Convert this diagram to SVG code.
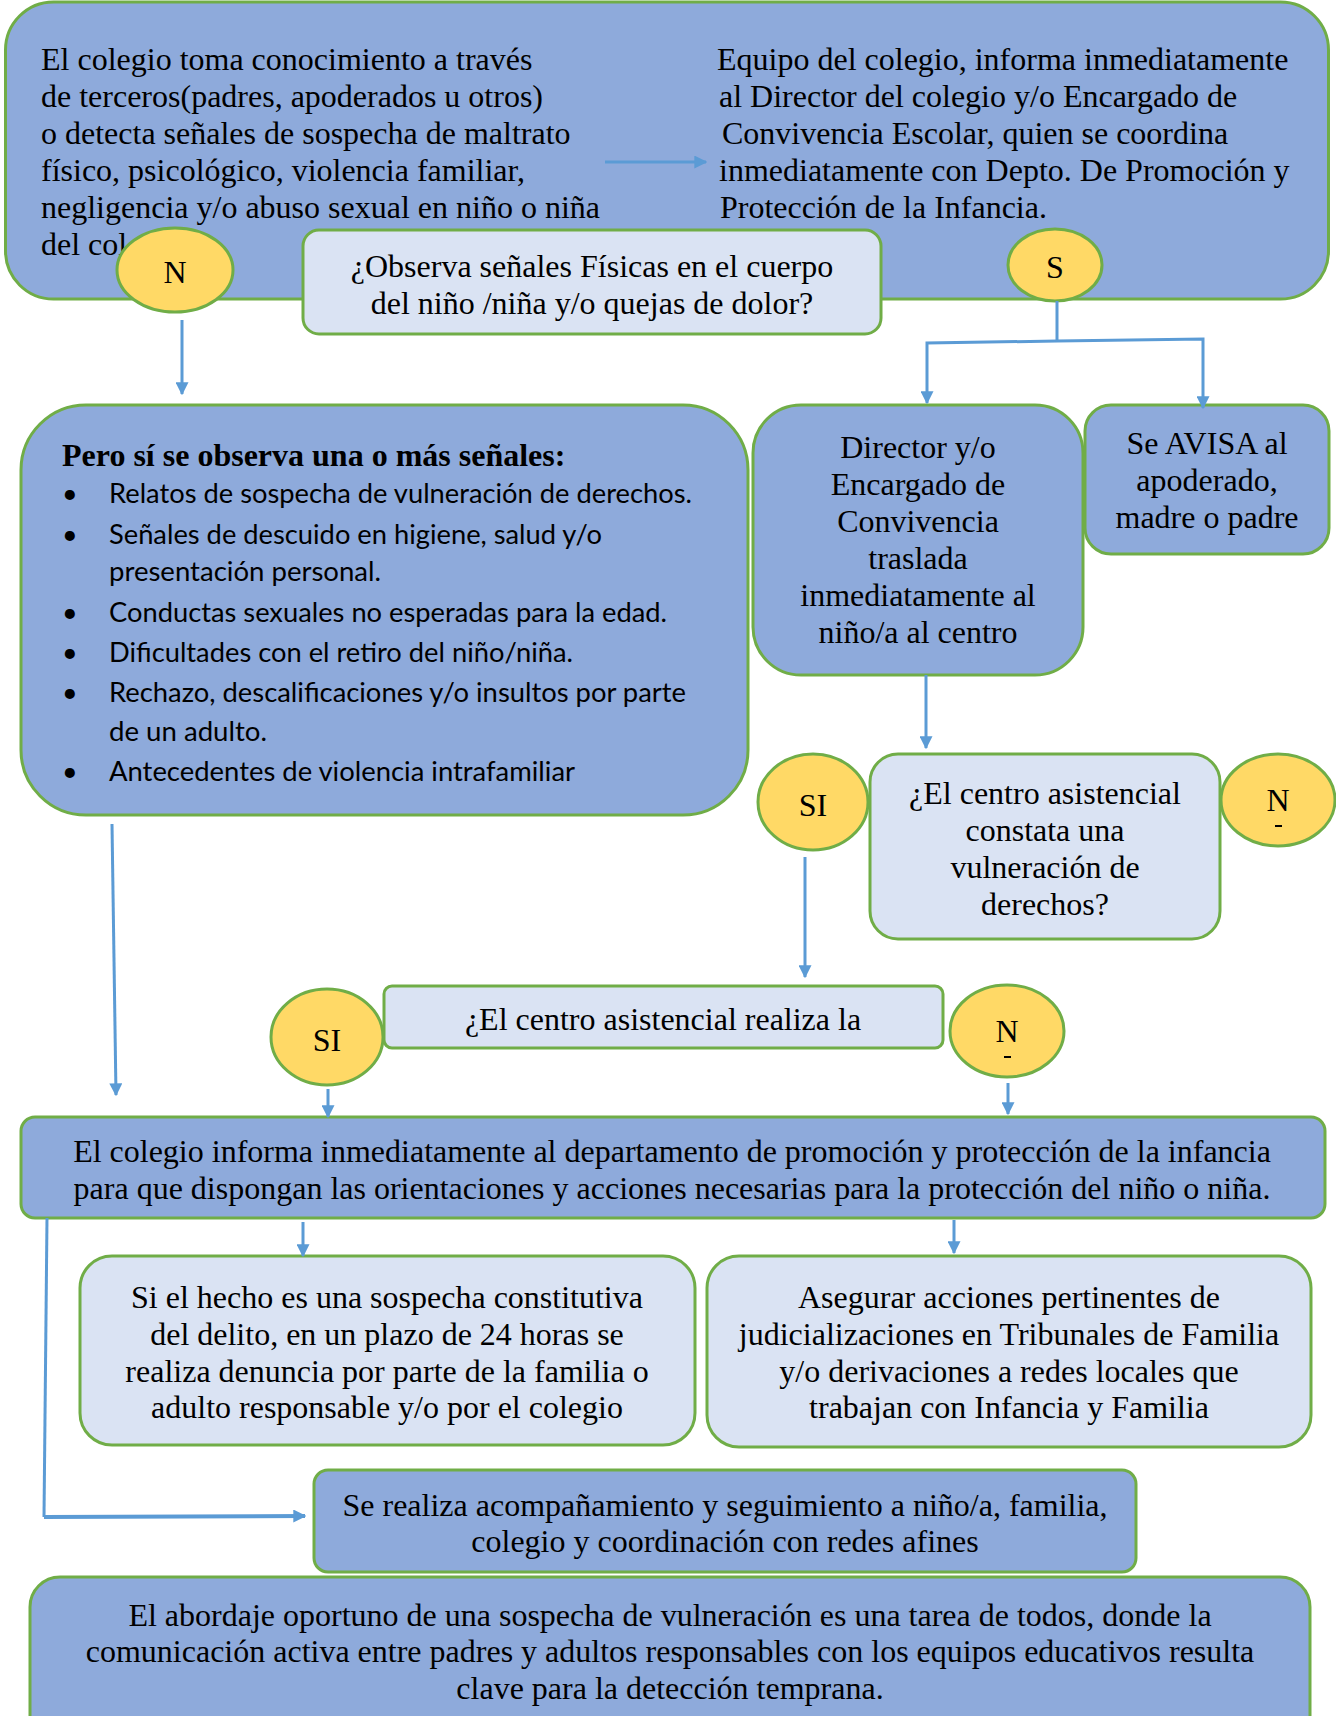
<svg xmlns="http://www.w3.org/2000/svg" width="1336" height="1716" viewBox="0 0 1336 1716">
<defs>
<style>
.blue{fill:#8eaadb;stroke:#70ad47;stroke-width:3}
.light{fill:#dae3f3;stroke:#70ad47;stroke-width:3}
.yel{fill:#ffd966;stroke:#70ad47;stroke-width:3}
.t{font-family:"Liberation Serif","Times New Roman",serif;font-size:32px;fill:#000}
.c{text-anchor:middle}
.b{font-weight:bold}
.s{font-family:Lato,"Liberation Sans",sans-serif;font-size:27px;fill:#000}
.con{fill:none;stroke:#5b9bd5;stroke-width:3}
.arr{marker-end:url(#ah)}
</style>
<marker id="ah" viewBox="0 0 10 10" refX="9" refY="5" markerWidth="13" markerHeight="13" markerUnits="userSpaceOnUse" orient="auto">
<path d="M0,0 L10,5 L0,10 z" fill="#5b9bd5"/>
</marker>
</defs>
<rect width="1336" height="1716" fill="#ffffff"/>

<g id="top-box">
<rect class="blue" x="5.5" y="2" width="1323" height="297" rx="48"/>
<text class="t" x="41" y="70">El colegio toma conocimiento a través</text>
<text class="t" x="41" y="107">de terceros(padres, apoderados u otros)</text>
<text class="t" x="41" y="144">o detecta señales de sospecha de maltrato</text>
<text class="t" x="41" y="181">físico, psicológico, violencia familiar,</text>
<text class="t" x="41" y="218">negligencia y/o abuso sexual en niño o niña</text>
<text class="t" x="41" y="255">del col</text>
<text class="t" x="717" y="70">Equipo del colegio, informa inmediatamente</text>
<text class="t" x="719" y="107">al Director del colegio y/o Encargado de</text>
<text class="t" x="722" y="144">Convivencia Escolar, quien se coordina</text>
<text class="t" x="719" y="181">inmediatamente con Depto. De Promoción y</text>
<text class="t" x="720" y="218">Protección de la Infancia.</text>
</g>

<g id="n-top">
<ellipse class="yel" cx="175" cy="270" rx="58" ry="42"/>
<text class="t c" x="175" y="283">N</text>
</g>

<g id="q-fisicas">
<rect class="light" x="303" y="230" width="578" height="104" rx="16"/>
<text class="t c" x="592" y="277">¿Observa señales Físicas en el cuerpo</text>
<text class="t c" x="592" y="314">del niño /niña y/o quejas de dolor?</text>
</g>

<g id="s-top">
<ellipse class="yel" cx="1055" cy="265" rx="47" ry="36"/>
<text class="t c" x="1055" y="278">S</text>
</g>

<g id="senales">
<rect class="blue" x="21" y="405" width="727" height="410" rx="65"/>
<text class="t b" x="62" y="466">Pero sí se observa una o más señales:</text>
<text class="s" x="62" y="503">•</text>
<text class="s" x="109" y="503" textLength="583" lengthAdjust="spacingAndGlyphs">Relatos de sospecha de vulneración de derechos.</text>
<text class="s" x="62" y="544">•</text>
<text class="s" x="109" y="544" textLength="493" lengthAdjust="spacingAndGlyphs">Señales de descuido en higiene, salud y/o</text>
<text class="s" x="109" y="581" textLength="272" lengthAdjust="spacingAndGlyphs">presentación personal.</text>
<text class="s" x="62" y="622">•</text>
<text class="s" x="109" y="622" textLength="558" lengthAdjust="spacingAndGlyphs">Conductas sexuales no esperadas para la edad.</text>
<text class="s" x="62" y="662">•</text>
<text class="s" x="109" y="662" textLength="464" lengthAdjust="spacingAndGlyphs">Dificultades con el retiro del niño/niña.</text>
<text class="s" x="62" y="702">•</text>
<text class="s" x="109" y="702" textLength="577" lengthAdjust="spacingAndGlyphs">Rechazo, descalificaciones y/o insultos por parte</text>
<text class="s" x="109" y="741" textLength="158" lengthAdjust="spacingAndGlyphs">de un adulto.</text>
<text class="s" x="62" y="781">•</text>
<text class="s" x="109" y="781" textLength="466" lengthAdjust="spacingAndGlyphs">Antecedentes de violencia intrafamiliar</text>
</g>

<g id="director">
<rect class="blue" x="753" y="405" width="330" height="270" rx="48"/>
<text class="t c" x="918" y="458">Director y/o</text>
<text class="t c" x="918" y="495">Encargado de</text>
<text class="t c" x="918" y="532">Convivencia</text>
<text class="t c" x="918" y="569">traslada</text>
<text class="t c" x="918" y="606">inmediatamente al</text>
<text class="t c" x="918" y="643">niño/a al centro</text>
</g>

<g id="avisa">
<rect class="blue" x="1085" y="405" width="244" height="149" rx="26"/>
<text class="t c" x="1207" y="454">Se AVISA al</text>
<text class="t c" x="1207" y="491">apoderado,</text>
<text class="t c" x="1207" y="528">madre o padre</text>
</g>

<g id="si-mid">
<ellipse class="yel" cx="813" cy="802" rx="55" ry="48"/>
<text class="t c" x="813" y="816">SI</text>
</g>

<g id="q-constata">
<rect class="light" x="870" y="754" width="350" height="185" rx="28"/>
<text class="t c" x="1045" y="804">¿El centro asistencial</text>
<text class="t c" x="1045" y="841">constata una</text>
<text class="t c" x="1045" y="878">vulneración de</text>
<text class="t c" x="1045" y="915">derechos?</text>
</g>

<g id="n-mid">
<ellipse class="yel" cx="1278" cy="800" rx="57" ry="46"/>
<text class="t c" x="1278" y="811">N</text>
<rect x="1275" y="825" width="7" height="2" fill="#000"/>
</g>

<g id="si-low">
<ellipse class="yel" cx="327" cy="1037" rx="56" ry="48"/>
<text class="t c" x="327" y="1051">SI</text>
</g>

<g id="q-realiza">
<rect class="light" x="384" y="986" width="559" height="62" rx="8"/>
<text class="t c" x="663" y="1030">¿El centro asistencial realiza la</text>
</g>

<g id="n-low">
<ellipse class="yel" cx="1007" cy="1031" rx="57" ry="46"/>
<text class="t c" x="1007" y="1042">N</text>
<rect x="1004" y="1056" width="7" height="2" fill="#000"/>
</g>

<g id="informa">
<rect class="blue" x="21" y="1117" width="1304" height="101" rx="14"/>
<text class="t c" x="672" y="1162">El colegio informa inmediatamente al departamento de promoción y protección de la infancia</text>
<text class="t c" x="672" y="1199">para que dispongan las orientaciones y acciones necesarias para la protección del niño o niña.</text>
</g>

<g id="denuncia">
<rect class="light" x="80" y="1256" width="615" height="189" rx="32"/>
<text class="t c" x="387" y="1308">Si el hecho es una sospecha constitutiva</text>
<text class="t c" x="387" y="1345">del delito, en un plazo de 24 horas se</text>
<text class="t c" x="387" y="1382">realiza denuncia por parte de la familia o</text>
<text class="t c" x="387" y="1418">adulto responsable y/o por el colegio</text>
</g>

<g id="asegurar">
<rect class="light" x="707" y="1256" width="604" height="191" rx="32"/>
<text class="t c" x="1009" y="1308">Asegurar acciones pertinentes de</text>
<text class="t c" x="1009" y="1345">judicializaciones en Tribunales de Familia</text>
<text class="t c" x="1009" y="1382">y/o derivaciones a redes locales que</text>
<text class="t c" x="1009" y="1418">trabajan con Infancia y Familia</text>
</g>

<g id="acompanamiento">
<rect class="blue" x="314" y="1470" width="822" height="102" rx="14"/>
<text class="t c" x="725" y="1516">Se realiza acompañamiento y seguimiento a niño/a, familia,</text>
<text class="t c" x="725" y="1552">colegio y coordinación con redes afines</text>
</g>

<g id="abordaje">
<rect class="blue" x="30" y="1577" width="1280" height="170" rx="30"/>
<text class="t c" x="670" y="1626">El abordaje oportuno de una sospecha de vulneración es una tarea de todos, donde la</text>
<text class="t c" x="670" y="1662">comunicación activa entre padres y adultos responsables con los equipos educativos resulta</text>
<text class="t c" x="670" y="1699">clave para la detección temprana.</text>
</g>

<g id="connectors">
<path class="con arr" d="M605,162 L706,162"/>
<path class="con arr" d="M182,320 L182,394"/>
<path class="con" d="M1057,301 L1057,341"/>
<path class="con arr" d="M1057,341 L927,343 L927,403"/>
<path class="con arr" d="M1057,341 L1203,339 L1203,408"/>
<path class="con arr" d="M926,675 L926,748"/>
<path class="con arr" d="M805,857 L805,977"/>
<path class="con arr" d="M112,824 L116,1095"/>
<path class="con arr" d="M328,1089 L328,1117"/>
<path class="con arr" d="M1008,1083 L1008,1114"/>
<path class="con arr" d="M303,1222 L303,1256"/>
<path class="con arr" d="M954,1220 L954,1253"/>
<path class="con" d="M47,1218 L44,1517"/>
<path class="con arr" style="stroke-width:4" d="M44,1517 L305,1516"/>
</g>
</svg>
